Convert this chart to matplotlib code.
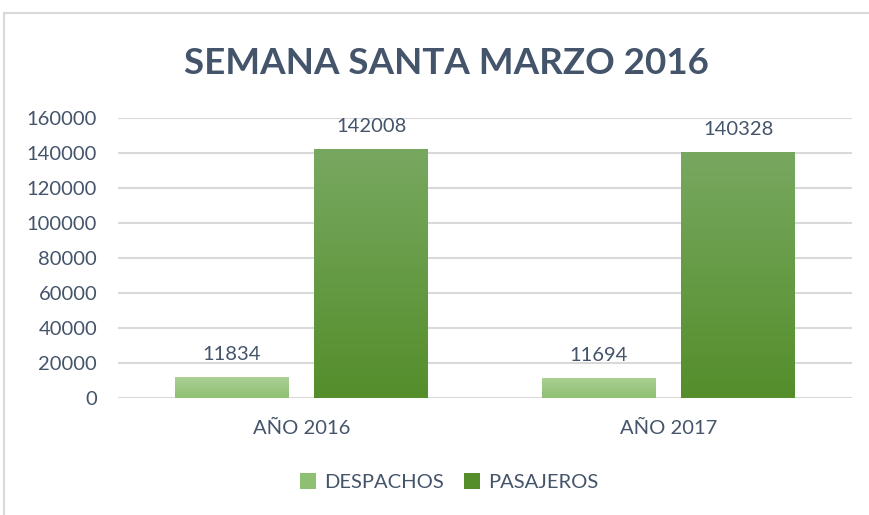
import numpy as np
import matplotlib.pyplot as plt
from matplotlib.colors import LinearSegmentedColormap
from matplotlib.patches import Rectangle

categories = ["AÑO 2016", "AÑO 2017"]
series_names = ["DESPACHOS", "PASAJEROS"]
despachos = [11834, 11694]
pasajeros = [142008, 140328]
yticks = [0, 20000, 40000, 60000, 80000, 100000, 120000, 140000, 160000]

TEXT = "#44546a"
GRID = "#d9d9d9"
# top -> bottom colours of each series' gradient fill
grads = [("#abd195", "#8fbf72"), ("#78a860", "#548e2b")]

plt.rcParams["font.family"] = ["Lato", "DejaVu Sans"]

fig = plt.figure(figsize=(8.7, 5.15), dpi=100)
ax = fig.add_axes([118 / 870, 1 - 398 / 515, (852 - 118) / 870, 280 / 515])

# outer frame of the chart area
fig.patches.append(Rectangle((4 / 870, -0.1), 1.2, (515 - 13) / 515 + 0.1,
                             transform=fig.transFigure, fill=False,
                             edgecolor=GRID, linewidth=1.5))

x = np.arange(len(categories))
width = 0.31
offs = [-0.19, 0.19]

for s, (vals, (top, bot)) in enumerate(zip([despachos, pasajeros], grads)):
    cmap = LinearSegmentedColormap.from_list("g%d" % s, [bot, top])
    bars = ax.bar(x + offs[s], vals, width, color=top, label=series_names[s], zorder=2)
    for b, v in zip(bars, vals):
        x0 = b.get_x()
        grad = np.linspace(0, 1, 256).reshape(-1, 1)
        im = ax.imshow(grad, cmap=cmap, origin="lower", aspect="auto",
                       extent=(x0, x0 + width, 0, v), zorder=3)
        im.set_clip_path(b)
        ax.text(x0 + width / 2, v + 8000, str(v), ha="center", va="bottom",
                fontsize=14.5, color=TEXT)

ax.set_xlim(-0.5, 1.5)
ax.set_ylim(0, 160000)
ax.set_yticks(yticks)
ax.set_yticklabels([str(t) for t in yticks], fontsize=14.5, color=TEXT)
ax.set_xticks(x)
ax.set_xticklabels(categories, fontsize=14.5, color=TEXT)
ax.tick_params(length=0)
ax.tick_params(axis="y", pad=15)
ax.tick_params(axis="x", pad=16)
ax.grid(axis="y", color=GRID, linewidth=1.5, zorder=0)
ax.set_axisbelow(True)
for sp in ax.spines.values():
    sp.set_visible(False)

fig.text(0.513, 1 - 64 / 515, "SEMANA SANTA MARZO 2016", ha="center", va="center",
         fontsize=26.5, fontweight="bold", color=TEXT)

leg = fig.legend(*ax.get_legend_handles_labels(), loc="center",
                 bbox_to_anchor=(0.516, 1 - 482 / 515), ncol=2, frameon=False,
                 fontsize=14.5, handlelength=0.8, handleheight=0.8,
                 handletextpad=0.4, columnspacing=1.0)
for t in leg.get_texts():
    t.set_color(TEXT)
for h, (top, bot) in zip(leg.legend_handles, grads):
    h.set_facecolor(bot)

fig.savefig("out.png", dpi=100)
